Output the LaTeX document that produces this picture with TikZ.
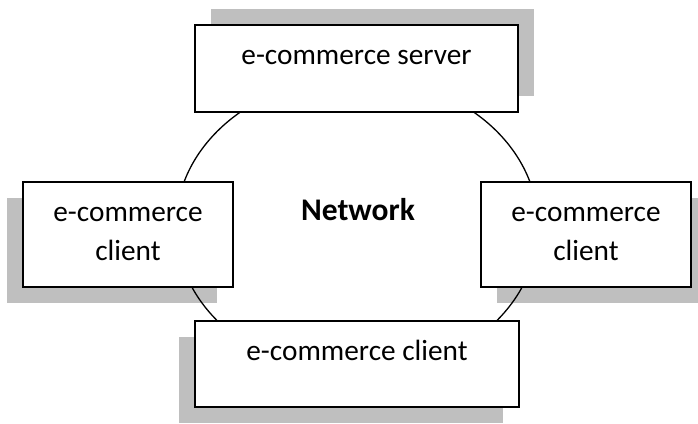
\documentclass[tikz,border=0pt]{standalone}
\usepackage{fontspec}
\setmainfont{Carlito}
\begin{document}
\begin{tikzpicture}[x=1pt,y=-1pt,
  box/.style={draw=black, line width=1.6pt, fill=white, inner sep=0pt},
  lbl/.style={font=\fontsize{29.3}{39}\selectfont, inner sep=0pt, align=center, anchor=base},
  netlbl/.style={font=\fontsize{31.5}{38}\selectfont\bfseries, inner sep=0pt, anchor=base},
  ring/.style={draw=black, line width=1.3pt}]
\definecolor{shadowgray}{HTML}{BFBFBF}
\useasboundingbox (0,0) rectangle (698,423);
% shadows
\fill[shadowgray] (211,9) rectangle (534,96);
\fill[shadowgray] (7,198) rectangle (217,303);
\fill[shadowgray] (497,198) rectangle (707,303);
\fill[shadowgray] (179,337) rectangle (503,423);
% network ring
\draw[ring] (357,226) ellipse [x radius=181pt, y radius=149pt];
% boxes
\node[box, minimum width=323pt, minimum height=87pt] (server) at (356.5,68.5) {};
\node[box, minimum width=210pt, minimum height=105pt] (clientL) at (128,234.5) {};
\node[box, minimum width=210pt, minimum height=105pt] (clientR) at (586,234.5) {};
\node[box, minimum width=324pt, minimum height=86pt] (clientB) at (357,364) {};
% labels
\node[lbl] (serverT) at (356.5,64) {e-commerce server};
\node[lbl] (clientLT) at (128,260) {e-commerce\\client};
\node[lbl] (clientRT) at (586,260) {e-commerce\\client};
\node[lbl] (clientBT) at (357,360) {e-commerce client};
\node[netlbl] (net) at (358,220) {Network};
\end{tikzpicture}
\end{document}
